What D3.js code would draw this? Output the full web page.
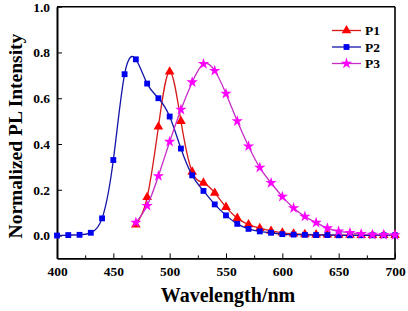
<!DOCTYPE html>
<html>
<head>
<meta charset="utf-8">
<script src="https://cdn.jsdelivr.net/npm/d3@7"></script>
<style>
  body { margin: 0; background: #fff; }
  svg { display: block; }
  .tick text { font-family: "Liberation Serif", serif; font-weight: bold; font-size: 13.5px; fill: #000; }
  .axis path, .axis line { stroke: #000; }
</style>
</head>
<body>
<div id="chart"></div>
<script>
const width = 408, height = 311;

// wavelengths (nm) and normalized intensities
const wlP2 = [400,410,420,430,440,450,460,470,480,490,500,510,520,530,540,550,560,570,580,590,600,610,620,630,640,650,660,670,680,690,700];
const valP2 = [0,0.002,0.003,0.012,0.075,0.33,0.705,0.77,0.664,0.60,0.52,0.38,0.263,0.195,0.136,0.088,0.051,0.029,0.018,0.012,0.006,0.004,0.003,0.002,0.002,0.001,0.001,0.001,0.001,0.001,0.001];

const wlP1 = [470,480,490,500,510,520,530,540,550,560,570,580,590,600,610,620,630,640,650,660,670,680,690,700];
const valP1 = [0.047,0.167,0.475,0.716,0.50,0.278,0.23,0.186,0.124,0.076,0.048,0.032,0.02,0.012,0.008,0.005,0.004,0.003,0.002,0.002,0.001,0.001,0.001,0.001];

const wlP3 = [470,480,490,500,510,520,530,540,550,560,570,580,590,600,610,620,630,640,650,660,670,680,690,700];
const valP3 = [0.057,0.13,0.26,0.41,0.55,0.67,0.75,0.72,0.62,0.50,0.39,0.297,0.23,0.17,0.12,0.083,0.056,0.032,0.018,0.012,0.007,0.004,0.003,0.002];

const seriesNames = ["P1", "P2", "P3"];
const xTicks = [400,450,500,550,600,650,700];
const yTicks = [0.0,0.2,0.4,0.6,0.8,1.0];

const series = [
  {name: "P1", wl: wlP1, val: valP1, line: "#d61a1a", fill: "#ff0000", sym: d3.symbolTriangle, size: 40},
  {name: "P2", wl: wlP2, val: valP2, line: "#1414a8", fill: "#0000f0", sym: d3.symbolSquare, size: 34},
  {name: "P3", wl: wlP3, val: valP3, line: "#c62cc6", fill: "#ff00ff", sym: d3.symbolStar, size: 40}
];

const svg = d3.select("#chart").append("svg")
    .attr("width", width)
    .attr("height", height);

const x = d3.scaleLinear().domain([400, 700]).range([57, 395]);
const y = d3.scaleLinear().domain([-0.1, 1.0]).range([258.4, 6.7]);

// minor x ticks
svg.append("g")
    .attr("class", "axis")
    .attr("transform", "translate(0," + y(-0.1) + ")")
    .call(d3.axisBottom(x).tickValues(d3.range(425, 700, 50)).tickSize(-3).tickFormat(""))
    .call(g => g.select(".domain").remove());

svg.append("g")
    .attr("class", "axis")
    .attr("transform", "translate(0," + y(-0.1) + ")")
    .call(d3.axisBottom(x).tickValues(xTicks).tickSizeInner(-5).tickSizeOuter(0).tickPadding(8).tickFormat(d3.format("d")))
    .call(g => g.select(".domain").attr("stroke-width", 1.6));

svg.append("g")
    .attr("class", "axis")
    .attr("transform", "translate(" + x(400) + ",0)")
    .call(d3.axisLeft(y).tickValues(yTicks).tickSizeInner(-5).tickSizeOuter(0).tickPadding(7).tickFormat(d3.format(".1f")))
    .call(g => g.select(".domain").attr("stroke-width", 2));

// top and right frame
svg.append("line").attr("x1", x(400)).attr("x2", x(700)).attr("y1", y(1.0)).attr("y2", y(1.0))
    .attr("stroke", "#000").attr("stroke-width", 1.6);
svg.append("line").attr("x1", x(700)).attr("x2", x(700)).attr("y1", y(1.0)).attr("y2", y(-0.1))
    .attr("stroke", "#000").attr("stroke-width", 1.6);

const line = d3.line()
    .x(d => x(d[0]))
    .y(d => y(d[1]))
    .curve(d3.curveNatural);

series.forEach(function (s) {
  const pts = s.wl.map((w, i) => [w, s.val[i]]);
  const g = svg.append("g");
  g.append("path")
      .attr("d", line(pts))
      .attr("fill", "none")
      .attr("stroke", s.line)
      .attr("stroke-width", 1.3);
  g.selectAll("path.mk")
      .data(pts)
      .enter()
      .append("path")
      .attr("class", "mk")
      .attr("transform", d => "translate(" + x(d[0]) + "," + y(d[1]) + ")")
      .attr("d", d3.symbol().type(s.sym).size(s.size))
      .attr("fill", s.fill);
});

// legend
const legend = svg.append("g");
series.forEach(function (s, i) {
  const ly = 30.5 + i * 16.5;
  legend.append("line").attr("x1", 332).attr("x2", 361).attr("y1", ly).attr("y2", ly)
      .attr("stroke", s.line).attr("stroke-width", 1.3);
  legend.append("path").attr("transform", "translate(346.5," + ly + ")")
      .attr("d", d3.symbol().type(s.sym).size(s.size)).attr("fill", s.fill);
  legend.append("text").attr("x", 365).attr("y", ly + 4.5)
      .style("font-family", "Liberation Serif, serif").style("font-weight", "bold").style("font-size", "13.5px")
      .text(seriesNames[i]);
});

svg.append("text")
    .attr("transform", "translate(22,136) rotate(-90)")
    .attr("text-anchor", "middle")
    .style("font-family", "Liberation Serif, serif").style("font-weight", "bold").style("font-size", "19.5px")
    .text("Normalized PL Intensity");

svg.append("text")
    .attr("x", 228).attr("y", 302)
    .attr("text-anchor", "middle")
    .style("font-family", "Liberation Serif, serif").style("font-weight", "bold").style("font-size", "20px")
    .text("Wavelength/nm");
</script>
</body>
</html>
